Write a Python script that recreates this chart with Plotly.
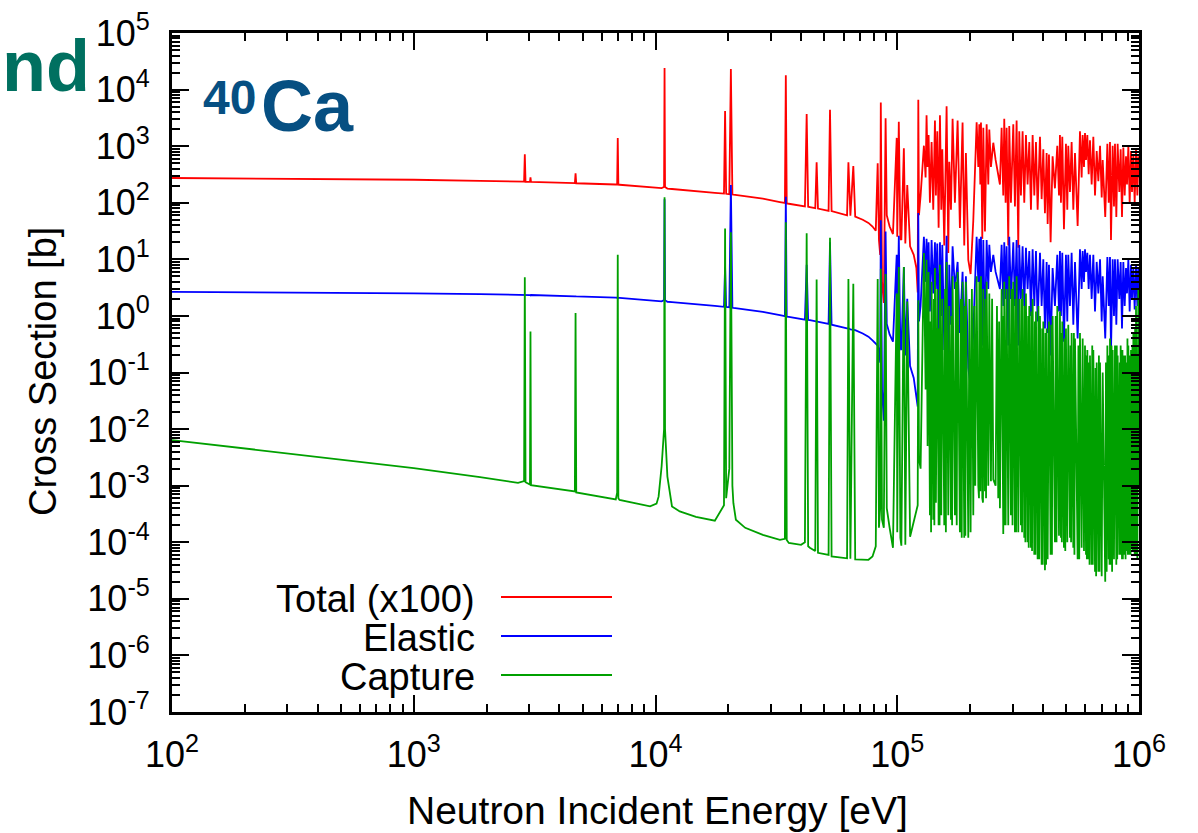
import plotly.graph_objects as go

# ---------------- data ----------------
# Isolated-resonance region, common energy grid [eV]
low_E = [100, 300, 1000, 1880, 2700, 2860, 2880, 2900, 3025, 3040, 3055,
         4640, 4670, 4700, 6850, 6940, 6980, 7020, 7100, 9500, 10100, 10300,
         10600, 10850, 10900, 10950, 11200, 11700, 12600, 14700, 17600, 19200,
         19400, 19600, 20200, 20500, 20800, 21000, 21500, 23500, 27800, 32700,
         34300, 34600, 34900, 35600, 40000, 41500, 42200, 42800, 43500, 45800,
         46400, 47000, 52000, 52700, 53500, 62000, 62800, 64000, 65800, 67000,
         72000, 76000, 79000, 81500, 83000, 84000, 85000, 85500, 86500, 88000,
         89500, 90500, 93000, 96000, 99500, 100000, 101500, 103000, 104000,
         106500, 108000, 110000, 113000, 117000, 120000, 121500, 122200, 123000]
low_total_x100 = [274, 268, 255, 243, 236, 236, 720, 235, 234, 280, 234,
                  222, 330, 221, 210, 210, 1400, 209, 208, 186, 183, 182,
                  181, 190, 24000, 190, 178, 175, 171, 160, 150, 145,
                  4200, 144, 142, 23000, 140, 139, 137, 131, 118, 103,
                  99, 18000, 97, 96, 88, 86, 3700, 85, 84, 80,
                  520, 79, 72, 4400, 71, 60, 520, 59, 445, 57,
                  50, 44, 38, 32, 500, 22, 12, 5900, 4, 1.7,
                  3100, 60, 38, 28, 1400, 25, 2700, 23, 22,
                  920, 19, 206, 17, 12, 7, 2.6, 6600, 60]
low_elastic = [2.65, 2.60, 2.50, 2.42, 2.36, 2.35, 2.4, 2.35, 2.34, 2.3, 2.34,
               2.22, 2.2, 2.21, 2.10, 2.10, 2.0, 2.09, 2.08, 1.86, 1.83, 1.82,
               1.81, 1.9, 115, 1.9, 1.78, 1.75, 1.71, 1.60, 1.50, 1.45,
               7.4, 1.44, 1.42, 206, 1.40, 1.39, 1.37, 1.31, 1.18, 1.03,
               0.99, 128, 0.97, 0.96, 0.88, 0.86, 8, 0.85, 0.84, 0.80,
               0.8, 0.79, 0.72, 20, 0.70, 0.60, 0.6, 0.58, 0.57, 0.56,
               0.49, 0.43, 0.37, 0.33, 0.3, 0.25, 0.15, 49, 0.05, 0.014,
               31, 0.72, 0.47, 0.35, 12, 0.30, 26, 0.27, 0.25,
               7.3, 0.2, 2, 0.13, 0.08, 0.04, 0.025, 66, 0.8]
low_capture = [6.4e-3, 3.7e-3, 2.05e-3, 1.42e-3, 1.12e-3, 1.2e-3, 4.8, 1.15e-3, 1.05e-3, 0.53, 1.02e-3,
               7.9e-4, 1.13, 7.6e-4, 5.7e-4, 7.5e-4, 12, 6e-4, 5.6e-4, 4.3e-4, 4.8e-4, 6.4e-4,
               2.2e-3, 1e-2, 125, 1e-2, 1.45e-3, 4.3e-4, 3.5e-4, 2.8e-4, 2.4e-4, 4.5e-4,
               35, 6e-4, 2e-3, 30, 1.0e-3, 4.9e-4, 2.5e-4, 1.8e-4, 1.35e-4, 1.1e-4,
               1.15e-4, 45, 1.1e-4, 9.7e-5, 9e-5, 1.0e-4, 29, 8.5e-5, 8e-5, 7e-5,
               4.4, 6.5e-5, 6e-5, 24, 5.6e-5, 5.2e-5, 4.5, 5.1e-5, 3.7, 5e-5,
               4.9e-5, 4.9e-5, 5.6e-5, 8.5e-5, 4.5, 1.8e-4, 4e-4, 6.8, 2.5e-4, 1.8e-4,
               5.5, 4e-4, 1.8e-4, 8e-5, 2.5, 1.5e-4, 7.3, 1.2e-4, 8.7e-5,
               7.3, 9e-5, 1.8, 1.25e-4, 2.3e-4, 3.5e-4, 4.5e-4, 1.9, 3e-3]

# Dense resonance region, common energy grid [eV]
dense_E = [1.249e5, 1.289e5, 1.310e5, 1.322e5, 1.335e5, 1.348e5, 1.365e5, 1.387e5, 1.409e5, 1.432e5,
           1.445e5, 1.464e5, 1.483e5, 1.502e5, 1.521e5, 1.536e5, 1.565e5, 1.600e5, 1.626e5, 1.641e5,
           1.668e5, 1.694e5, 1.732e5, 1.777e5, 1.816e5, 1.863e5, 1.893e5, 1.923e5, 1.967e5, 2.011e5,
           2.063e5, 2.102e5, 2.130e5, 2.164e5, 2.185e5, 2.206e5, 2.220e5, 2.248e5, 2.270e5, 2.306e5,
           2.343e5, 2.380e5, 2.403e5, 2.441e5, 2.496e5, 2.552e5, 2.617e5, 2.659e5, 2.702e5, 2.745e5,
           2.771e5, 2.807e5, 2.834e5, 2.879e5, 2.906e5, 2.953e5, 3.020e5, 3.068e5, 3.117e5, 3.167e5,
           3.197e5, 3.248e5, 3.300e5, 3.353e5, 3.407e5, 3.461e5, 3.517e5, 3.573e5, 3.631e5, 3.689e5,
           3.748e5, 3.808e5, 3.894e5, 3.956e5, 4.019e5, 4.083e5, 4.149e5, 4.189e5, 4.242e5, 4.309e5,
           4.392e5, 4.490e5, 4.592e5, 4.667e5, 4.710e5, 4.755e5, 4.816e5, 4.893e5, 4.987e5, 5.051e5,
           5.099e5, 5.181e5, 5.264e5, 5.349e5, 5.435e5, 5.574e5, 5.700e5, 5.791e5, 5.847e5, 5.922e5,
           5.979e5, 6.036e5, 6.113e5, 6.191e5, 6.270e5, 6.371e5, 6.473e5, 6.577e5, 6.683e5, 6.790e5,
           6.899e5, 7.010e5, 7.077e5, 7.250e5, 7.398e5, 7.493e5, 7.586e5, 7.658e5, 7.781e5, 7.880e5,
           7.955e5, 8.057e5, 8.160e5, 8.291e5, 8.397e5, 8.505e5, 8.614e5, 8.725e5, 8.836e5, 8.920e5,
           9.035e5, 9.150e5, 9.267e5, 9.355e5, 9.476e5, 9.596e5, 9.719e5, 9.843e5, 9.937e5, 1.0e6]
dense_total_x100 = [134, 1020, 280, 3510, 430, 1580, 100, 1180, 75, 2830,
                    134, 1830, 36, 3510, 75, 880, 17.5, 5050, 13, 530,
                    75, 3040, 100, 2830, 36, 2630, 17.5, 760, 9.8, 5.5,
                    48, 430, 2630, 430, 2440, 210, 2630, 23, 2110, 31,
                    2440, 210, 1960, 430, 1150, 570, 280, 210, 2110, 134,
                    3040, 100, 2110, 17.5, 2270, 100, 2440, 86, 2830, 16,
                    1830, 134, 1830, 100, 1580, 210, 1180, 75, 1580, 134,
                    1180, 75, 1470, 116, 880, 65, 760, 42, 710, 20,
                    660, 180, 1020, 134, 1580, 100, 1470, 34, 1100, 75,
                    1020, 155, 1180, 75, 760, 39, 1830, 280, 1580, 430,
                    1700, 570, 1580, 320, 1270, 210, 1470, 134, 820, 240,
                    1020, 124, 570, 56, 1100, 100, 1180, 22, 1020, 86,
                    1100, 56, 1100, 155, 880, 56, 950, 134, 660, 210,
                    1020, 100, 820, 155, 710, 100, 880, 134, 660, 280]
dense_elastic = [1.5, 25, 4, 23, 3, 20, 1.2, 22, 2.5, 20,
                 3, 19, 0.4, 20, 1, 18, 0.25, 26, 0.08, 8,
                 0.7, 17, 3, 9, 0.5, 6, 0.25, 5, 0.12, 0.056,
                 0.5, 6, 25, 4, 23, 2, 25, 0.3, 22, 0.4,
                 22, 3, 18, 6, 12, 6, 4, 3, 18, 1.5,
                 20, 2, 17, 0.3, 25, 2, 20, 1.5, 22, 0.3,
                 18, 2, 17, 1.5, 16, 3, 14, 1, 15, 1.5,
                 14, 0.8, 13, 1.5, 10, 0.6, 9, 0.5, 8, 0.2,
                 7, 1.5, 12, 1.2, 14, 1, 13, 0.35, 12, 0.8,
                 12, 1.5, 13, 0.7, 9, 0.4, 15, 3, 14, 4,
                 15, 6, 13, 3, 12, 2, 12, 1.2, 9, 2.5,
                 10, 0.8, 5, 0.4, 11, 1.5, 11, 0.22, 10, 1,
                 10, 0.7, 10, 2, 9, 0.6, 9, 1.5, 7, 2.5,
                 10, 1.2, 8, 2, 7, 1.3, 8, 1.5, 7, 3]
dense_capture = [2e-3, 13, 0.05, 9.8, 5e-3, 6, 3e-4, 4, 2.5e-4, 7,
                 5e-4, 3, 2e-4, 8, 3e-4, 2, 2e-4, 9, 3e-4, 1.5,
                 2.5e-4, 5, 3e-4, 6, 1.5e-4, 4, 1.2e-4, 4, 1.2e-4, 1.5e-4,
                 3e-4, 1e-3, 5, 1e-3, 4, 8e-4, 5, 6e-4, 3, 8e-4,
                 4, 1e-3, 2.5, 1.2e-3, 1.3e-3, 1e-3, 6e-4, 4e-4, 3, 1.4e-4,
                 4, 2e-4, 3, 2e-4, 5, 3e-4, 4, 1.5e-4, 5, 1.5e-4,
                 2, 2e-4, 3, 1.2e-4, 2.5, 1e-4, 1.5, 8e-5, 2, 6e-5,
                 1.2, 5e-5, 1, 4e-5, 0.8, 3.2e-5, 0.6, 5e-5, 0.8, 6e-5,
                 1, 1e-4, 1.5, 1.3e-4, 1.2, 1.2e-4, 0.8, 8e-5, 0.6, 1e-4,
                 0.7, 1.2e-4, 0.5, 8e-5, 0.4, 5e-5, 0.5, 8e-5, 0.4, 7e-5,
                 0.3, 6e-5, 0.25, 5e-5, 0.2, 4e-5, 0.25, 3e-5, 0.15, 3e-5,
                 0.15, 2.5e-5, 0.1, 2e-5, 0.3, 5e-5, 0.4, 4e-5, 0.25, 5e-5,
                 0.3, 4e-5, 0.2, 6e-5, 0.3, 5e-5, 0.2, 6e-5, 0.15, 7e-5,
                 0.3, 6e-5, 0.25, 8e-5, 0.5, 6e-5, 1.5, 5e-5, 3, 1e-3]

# Extra narrow capture-only resonances (peak / following valley) [eV]
capture_extra_E = [1.373e5, 1.380e5, 1.417e5, 1.424e5, 1.490e5, 1.496e5, 1.577e5, 1.589e5,
                   1.677e5, 1.686e5, 1.747e5, 1.762e5, 1.832e5, 1.848e5, 1.903e5, 1.913e5,
                   1.988e5, 2.036e5, 2.083e5, 2.171e5, 2.178e5, 2.256e5, 2.263e5, 2.318e5,
                   2.330e5, 2.468e5, 2.585e5, 2.638e5, 2.755e5, 2.763e5, 2.818e5, 2.826e5,
                   2.976e5, 2.998e5, 3.085e5, 3.101e5, 3.266e5, 3.283e5, 3.371e5, 3.389e5,
                   3.480e5, 3.498e5, 3.592e5, 3.611e5, 3.709e5, 3.728e5, 3.837e5, 3.866e5,
                   3.977e5, 3.998e5, 4.105e5, 4.127e5, 4.337e5, 4.364e5, 4.524e5, 4.558e5,
                   4.775e5, 4.796e5, 4.924e5, 4.955e5, 5.208e5, 5.236e5, 5.378e5, 5.406e5,
                   5.616e5, 5.658e5, 6.062e5, 6.087e5, 6.217e5, 6.244e5, 6.405e5, 6.439e5,
                   6.612e5, 6.647e5, 6.826e5, 6.862e5, 7.300e5, 7.349e5, 7.524e5, 7.555e5,
                   7.699e5, 7.740e5, 7.905e5, 7.930e5, 8.091e5, 8.126e5, 8.326e5, 8.361e5,
                   8.541e5, 8.577e5, 8.762e5, 8.799e5, 8.958e5, 8.996e5, 9.189e5, 9.228e5,
                   9.395e5, 9.435e5, 9.637e5, 9.678e5]
capture_extra = [0.8, 1.5e-4, 2, 2e-4, 0.6, 2e-4, 3, 1.5e-4,
                 1, 2e-4, 4, 2e-4, 2, 1.2e-4, 1.5, 1.3e-4,
                 2, 3, 1.5, 1, 6e-4, 1.5, 5e-4, 2,
                 6e-4, 2, 1.5, 0.8, 1, 2e-4, 1.5, 2e-4,
                 3, 2e-4, 2, 1.5e-4, 2, 1.5e-4, 1.5, 1e-4,
                 1, 8e-5, 1.2, 7e-5, 0.8, 6e-5, 1.5, 5e-5,
                 0.6, 4e-5, 0.5, 4e-5, 0.7, 6e-5, 1, 1e-4,
                 0.5, 1e-4, 0.4, 7e-5, 0.3, 1e-4, 0.5, 6e-5,
                 0.3, 5e-5, 0.2, 5e-5, 0.15, 4e-5, 0.3, 4e-5,
                 0.12, 2.5e-5, 0.2, 3e-5, 0.15, 3e-5, 0.2, 4e-5,
                 0.3, 3e-5, 0.15, 5e-5, 0.3, 5e-5, 0.15, 6e-5,
                 0.25, 5e-5, 0.2, 5e-5, 0.4, 6e-5, 0.2, 6e-5,
                 0.3, 7e-5, 0.6, 6e-5]

series_names = ["Total (x100)", "Elastic", "Capture"]
series_colors = ["#ff0000", "#0000ff", "#00a000"]

x_tick_vals = [1e2, 1e3, 1e4, 1e5, 1e6]
x_tick_text = ["10<sup>2</sup>", "10<sup>3</sup>", "10<sup>4</sup>", "10<sup>5</sup>", "10<sup>6</sup>"]
y_tick_vals = [10.0 ** p for p in range(-7, 6)]
y_tick_text = ["10<sup>%d</sup>" % p for p in range(-7, 6)]

# ---------------- figure ----------------
energy = low_E + dense_E
cap_pairs = sorted(zip(low_E + dense_E + capture_extra_E,
                       low_capture + dense_capture + capture_extra))
cap_E = [p[0] for p in cap_pairs]
cap_v = [p[1] for p in cap_pairs]

series_x = [energy, energy, cap_E]
series_vals = [low_total_x100 + dense_total_x100,
               low_elastic + dense_elastic,
               cap_v]

W, H = 1198, 833
L, R, T, B = 172, 59, 33, 121
PW, PH = W - L - R, H - T - B


def px(xp):
    return (xp - L) / PW


def py(yp):
    return (H - B - yp) / PH


FONT = "Liberation Sans, Arial, Helvetica, sans-serif"

fig = go.Figure()
for name, xs, vals, col in zip(series_names, series_x, series_vals, series_colors):
    fig.add_trace(go.Scatter(x=xs, y=vals, mode="lines", name=name,
                             line=dict(color=col, width=1.8), showlegend=False,
                             hoverinfo="skip"))

minor_x = [m * 10.0 ** e for e in range(2, 6) for m in range(2, 10)]
minor_y = [m * 10.0 ** e for e in range(-7, 5) for m in range(2, 10)]

axis_common = dict(type="log", showline=True, linecolor="black", linewidth=3,
                   mirror="ticks", ticks="inside", ticklen=17, tickwidth=1.5,
                   tickcolor="black", showgrid=False, zeroline=False,
                   tickmode="array",
                   tickfont=dict(family=FONT, size=36, color="black"))

fig.update_xaxes(**axis_common, range=[2, 6], tickvals=x_tick_vals, ticktext=x_tick_text,
                 ticklabelstandoff=9,
                 minor=dict(ticks="inside", ticklen=8, tickwidth=1.5, tickcolor="black",
                            tickmode="array", tickvals=minor_x, showgrid=False))
fig.update_yaxes(**axis_common, range=[-7, 5], tickvals=y_tick_vals, ticktext=y_tick_text,
                 ticklabelstandoff=12,
                 minor=dict(ticks="inside", ticklen=8, tickwidth=1.5, tickcolor="black",
                            tickmode="array", tickvals=minor_y, showgrid=False))

ann = []
# axis titles
ann.append(dict(text="Neutron Incident Energy [eV]", x=px(657), y=py(810), xref="paper", yref="paper",
                xanchor="center", yanchor="middle", showarrow=False,
                font=dict(family=FONT, size=39, color="black")))
ann.append(dict(text="Cross Section [b]", x=px(43), y=py(372), xref="paper", yref="paper",
                xanchor="center", yanchor="middle", showarrow=False, textangle=-90,
                font=dict(family=FONT, size=38, color="black")))
# legend
legend_rows = [597, 636, 675]
shapes = []
for name, col, yr in zip(series_names, series_colors, legend_rows):
    ann.append(dict(text=name, x=px(477), y=py(yr + 2), xref="paper", yref="paper",
                    xanchor="right", yanchor="middle", showarrow=False,
                    font=dict(family=FONT, size=38, color="black")))
    shapes.append(dict(type="line", xref="paper", yref="paper", x0=px(501), x1=px(612),
                       y0=py(yr), y1=py(yr), line=dict(color=col, width=2)))
# nuclide label
ann.append(dict(text="<b>40</b>", x=px(201), y=py(97), xref="paper", yref="paper",
                xanchor="left", yanchor="middle", showarrow=False,
                font=dict(family=FONT, size=48, color="#064f82")))
ann.append(dict(text="<b>Ca</b>", x=px(259), y=py(106), xref="paper", yref="paper",
                xanchor="left", yanchor="middle", showarrow=False,
                font=dict(family=FONT, size=72, color="#064f82")))
ann.append(dict(text="<b>nd</b>", x=px(92), y=py(66), xref="paper", yref="paper",
                xanchor="right", yanchor="middle", showarrow=False,
                font=dict(family=FONT, size=72, color="#007060")))

fig.update_layout(width=W, height=H, margin=dict(l=L, r=R, t=T, b=B, autoexpand=False),
                  plot_bgcolor="white", paper_bgcolor="white",
                  annotations=ann, shapes=shapes, showlegend=False)

fig.write_html("out.html")
